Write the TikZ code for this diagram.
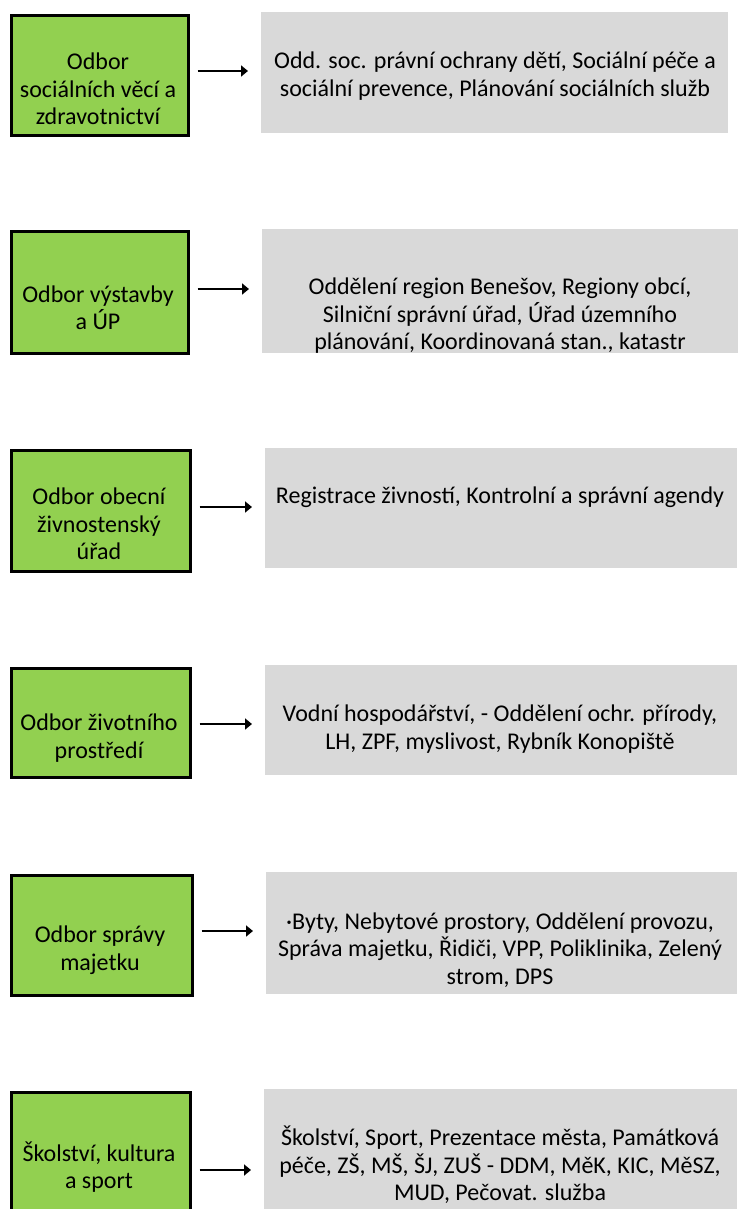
\documentclass[tikz,border=0pt]{standalone}
\usepackage{fontspec}
\setmainfont{Carlito}
\usetikzlibrary{arrows.meta}
\definecolor{dgreen}{HTML}{92D050}
\definecolor{dgrey}{HTML}{D9D9D9}
\begin{document}
\begin{tikzpicture}[x=1pt,y=-1pt,
  gbox/.style={draw=black,line width=2.6pt,fill=dgreen,anchor=north west,inner sep=0pt},
  rbox/.style={fill=dgrey,draw=none,anchor=north west,inner sep=0pt},
  txt/.style={align=center,font=\fontsize{24}{27.5}\selectfont,inner sep=0pt,text=black},
  arr/.style={line width=2pt,-{Triangle[length=7pt,width=11pt]},shorten <=8pt,shorten >=13pt}]
\useasboundingbox (0,0) rectangle (737,1209);
% boxes
\node[gbox,minimum width=177pt,minimum height=120pt] (g1) at (10,14) {};
\node[rbox,minimum width=467pt,minimum height=121pt] (r1) at (261,12) {};
\node[gbox,minimum width=177pt,minimum height=122pt] (g2) at (10,230) {};
\node[rbox,minimum width=476pt,minimum height=124pt] (r2) at (262,229) {};
\node[gbox,minimum width=179pt,minimum height=121pt] (g3) at (10,449) {};
\node[rbox,minimum width=472pt,minimum height=120pt] (r3) at (265,448) {};
\node[gbox,minimum width=179pt,minimum height=109pt] (g4) at (10,667) {};
\node[rbox,minimum width=472pt,minimum height=110pt] (r4) at (265,665) {};
\node[gbox,minimum width=181pt,minimum height=120pt] (g5) at (10,874) {};
\node[rbox,minimum width=471pt,minimum height=122pt] (r5) at (266,872) {};
\node[gbox,minimum width=179pt,minimum height=125pt] (g6) at (10,1091) {};
\node[rbox,minimum width=473pt,minimum height=125pt] (r6) at (264,1089) {};
% texts
\node[txt] (tg1) at (98,89) {Odbor\\sociálních věcí a\\zdravotnictví};
\node[txt] (tr1) at (495,76) {Odd. soc. právní ochrany dětí, Sociální péče a\\sociální prevence, Plánování sociálních služb};
\node[txt] (tg2) at (98,308) {Odbor výstavby\\a ÚP};
\node[txt] (tr2) at (500,316) {Oddělení region Benešov, Regiony obcí,\\Silniční správní úřad, Úřad územního\\plánování, Koordinovaná stan., katastr};
\node[txt] (tg3) at (99,524) {Odbor obecní\\živnostenský\\úřad};
\node[txt] (tr3) at (500,497) {Registrace živností, Kontrolní a správní agendy};
\node[txt] (tg4) at (99,738) {Odbor životního\\prostředí};
\node[txt] (tr4) at (500,729) {Vodní hospodářství, - Oddělení ochr. přírody,\\LH, ZPF, myslivost, Rybník Konopiště};
\node[txt] (tg5) at (100,950) {Odbor správy\\majetku};
\node[txt] (tr5) at (500,950) {·Byty, Nebytové prostory, Oddělení provozu,\\Správa majetku, Řidiči, VPP, Poliklinika, Zelený\\strom, DPS};
\node[txt] (tg6) at (99,1167) {Školství, kultura\\a sport};
\node[txt] (tr6) at (500,1165) {Školství, Sport, Prezentace města, Památková\\péče, ZŠ, MŠ, ŠJ, ZUŠ - DDM, MěK, KIC, MěSZ,\\MUD, Pečovat. služba};
% arrow heights
\coordinate (a1) at (0,71);
\coordinate (a2) at (0,289);
\coordinate (a3) at (0,507);
\coordinate (a4) at (0,724);
\coordinate (a5) at (0,931);
\coordinate (a6) at (0,1170);
\draw[arr] (g1.east |- a1) -- (r1.west |- a1);
\draw[arr] (g2.east |- a2) -- (r2.west |- a2);
\draw[arr] (g3.east |- a3) -- (r3.west |- a3);
\draw[arr] (g4.east |- a4) -- (r4.west |- a4);
\draw[arr] (g5.east |- a5) -- (r5.west |- a5);
\draw[arr] (g6.east |- a6) -- (r6.west |- a6);
\end{tikzpicture}
\end{document}
